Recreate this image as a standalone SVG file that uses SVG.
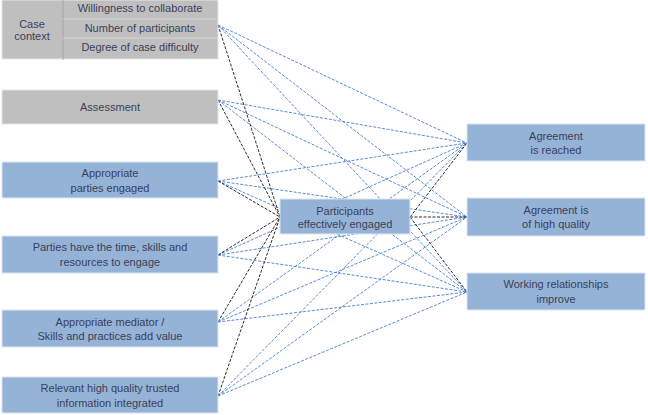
<svg xmlns="http://www.w3.org/2000/svg" width="648" height="415" viewBox="0 0 648 415">
<style>
.g{fill:#bfbfbf;stroke:#e6e6e6;stroke-width:1}
.b{fill:#95b3d7;stroke:#dce6f2;stroke-width:1}
text{font-family:"Liberation Sans",Arial,sans-serif;font-size:11px;fill:#3a3f5a;text-anchor:middle}
.bl{stroke:#4a7dcc;stroke-width:0.9;stroke-dasharray:3,1.5;fill:none}
.bk{stroke:#2b2b2b;stroke-width:1;stroke-dasharray:3,1.5;fill:none}
</style>
<rect width="648" height="415" fill="#fff"/>
<g id="connectors">
<g class="bl">
<path d="M218 25L467 143M218 25L467 217M218 25L467 292"/>
<path d="M218 100L467 143M218 100L467 217M218 100L467 292"/>
<path d="M218 181L467 143M218 181L467 217M218 181L467 292"/>
<path d="M218 255L467 143M218 255L467 217M218 255L467 292"/>
<path d="M218 322L467 143M218 322L467 217M218 322L467 292"/>
<path d="M218 396L467 143M218 396L467 217M218 396L467 292"/>
</g>
<g class="bk">
<path d="M218 25L280 217M218 100L280 217M218 181L280 217M218 255L280 217M218 322L280 217M218 396L280 217"/>
<path d="M410 217L467 143M410 217L467 217M410 217L467 292"/>
</g>
</g>
<g id="case-context">
<rect class="g" x="2" y="0" width="216" height="59"/>
<line x1="63" y1="0" x2="63" y2="60" stroke="#a6a6a6" stroke-width="1"/>
<line x1="63" y1="19" x2="218" y2="19" stroke="#d4d4d4" stroke-width="1"/>
<line x1="63" y1="38" x2="218" y2="38" stroke="#d4d4d4" stroke-width="1"/>
<text x="32" y="28">Case</text>
<text x="32" y="40">context</text>
<text x="140" y="12">Willingness to collaborate</text>
<text x="140" y="32">Number of participants</text>
<text x="140" y="51">Degree of  case difficulty</text>
</g>
<g id="assessment">
<rect class="g" x="2" y="90" width="216" height="34"/>
<text x="110" y="111">Assessment</text>
</g>
<g id="parties-engaged">
<rect class="b" x="2" y="162" width="216" height="36"/>
<text x="110" y="177">Appropriate</text>
<text x="110" y="192">parties engaged</text>
</g>
<g id="parties-time">
<rect class="b" x="2" y="236" width="216" height="37"/>
<text x="110" y="251">Parties have the time, skills and</text>
<text x="110" y="266">resources to engage</text>
</g>
<g id="mediator">
<rect class="b" x="2" y="310" width="216" height="37"/>
<text x="110" y="326">Appropriate mediator /</text>
<text x="110" y="340">Skills and practices add value</text>
</g>
<g id="information">
<rect class="b" x="2" y="377" width="216" height="36"/>
<text x="110" y="392">Relevant high quality trusted</text>
<text x="110" y="407">information integrated</text>
</g>
<g id="participants-engaged">
<rect class="b" x="280" y="199" width="130" height="35"/>
<text x="345" y="215">Participants</text>
<text x="345" y="228">effectively engaged</text>
</g>
<g id="agreement-reached">
<rect class="b" x="467" y="124" width="178" height="37"/>
<text x="556" y="140">Agreement</text>
<text x="556" y="154">is reached</text>
</g>
<g id="agreement-quality">
<rect class="b" x="467" y="198" width="178" height="38"/>
<text x="556" y="214">Agreement is</text>
<text x="556" y="228">of high quality</text>
</g>
<g id="relationships">
<rect class="b" x="467" y="273" width="178" height="37"/>
<text x="556" y="288">Working relationships</text>
<text x="556" y="303">improve</text>
</g>
</svg>
